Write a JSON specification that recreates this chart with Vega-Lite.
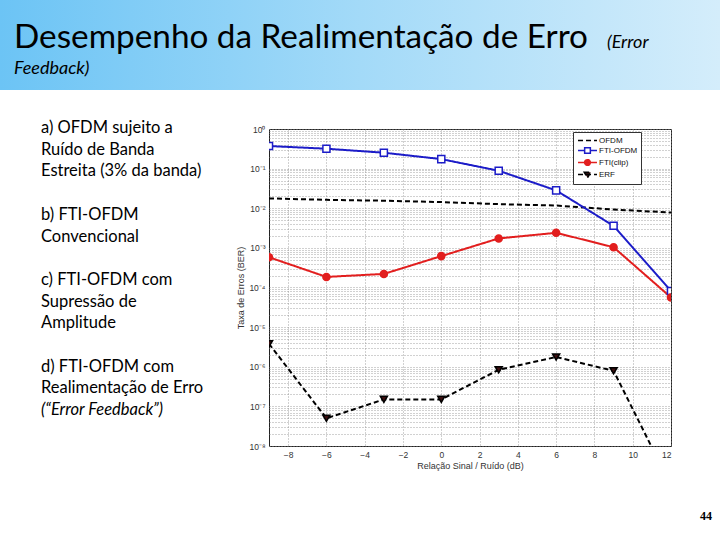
{
  "$schema": "https://vega.github.io/schema/vega-lite/v6.json",
  "padding": 0,
  "background": "white",
  "spacing": 30,
  "config": {"view": {"stroke": null}, "font": "Lato"},
  "title": {
    "text": "(Error", "anchor": "start", "frame": "group", "orient": "top",
    "dx": 607, "offset": -51.5,
    "font": "Lato", "fontSize": 18, "fontStyle": "italic", "fontWeight": "normal", "color": "#000000"
  },
  "datasets": {
    "ber": [
      {"series": "OFDM", "snr": -9, "ber": 0.0177},
      {"series": "OFDM", "snr": -6, "ber": 0.0163},
      {"series": "OFDM", "snr": -3, "ber": 0.0155},
      {"series": "OFDM", "snr": 0, "ber": 0.0143},
      {"series": "OFDM", "snr": 3, "ber": 0.0127},
      {"series": "OFDM", "snr": 6, "ber": 0.0117},
      {"series": "OFDM", "snr": 9, "ber": 0.0093},
      {"series": "OFDM", "snr": 12, "ber": 0.0078},
      {"series": "FTI-OFDM", "snr": -9, "ber": 0.372},
      {"series": "FTI-OFDM", "snr": -6, "ber": 0.318},
      {"series": "FTI-OFDM", "snr": -3, "ber": 0.252},
      {"series": "FTI-OFDM", "snr": 0, "ber": 0.174},
      {"series": "FTI-OFDM", "snr": 3, "ber": 0.0883},
      {"series": "FTI-OFDM", "snr": 6, "ber": 0.0282},
      {"series": "FTI-OFDM", "snr": 9, "ber": 0.0036},
      {"series": "FTI-OFDM", "snr": 12, "ber": 0.000082},
      {"series": "FTI(clip)", "snr": -9, "ber": 0.00058},
      {"series": "FTI(clip)", "snr": -6, "ber": 0.000185},
      {"series": "FTI(clip)", "snr": -3, "ber": 0.00022},
      {"series": "FTI(clip)", "snr": 0, "ber": 0.00062},
      {"series": "FTI(clip)", "snr": 3, "ber": 0.00173},
      {"series": "FTI(clip)", "snr": 6, "ber": 0.0024},
      {"series": "FTI(clip)", "snr": 9, "ber": 0.00104},
      {"series": "FTI(clip)", "snr": 12, "ber": 0.000056},
      {"series": "ERF", "snr": -9, "ber": 0.0000038},
      {"series": "ERF", "snr": -6, "ber": 0.00000005},
      {"series": "ERF", "snr": -3, "ber": 0.00000015},
      {"series": "ERF", "snr": 0, "ber": 0.00000015},
      {"series": "ERF", "snr": 3, "ber": 0.00000084},
      {"series": "ERF", "snr": 6, "ber": 0.00000176},
      {"series": "ERF", "snr": 9, "ber": 0.00000079},
      {"series": "ERF", "snr": 12, "ber": 0.000000001}
    ]
  },
  "vconcat": [
    {
      "width": 720, "height": 90,
      "data": {"values": [{}]},
      "mark": {"type": "rect", "color": {"gradient": "linear", "x1": 0, "y1": 0, "x2": 1, "y2": 0,
        "stops": [{"offset": 0, "color": "#6cc4f5"}, {"offset": 0.5, "color": "#a3daf8"}, {"offset": 1, "color": "#d4edfb"}]}},
      "encoding": {},
      "title": {
        "text": "Desempenho da Realimentação de Erro",
        "subtitle": "Feedback)",
        "anchor": "start", "frame": "group", "orient": "bottom",
        "dx": 14, "offset": -68.4,
        "font": "Lato", "fontSize": 33.3, "fontWeight": "normal", "color": "#000000",
        "subtitleFont": "Lato", "subtitleFontSize": 18, "subtitleFontStyle": "italic",
        "subtitleColor": "#000000", "subtitlePadding": 5
      }
    },
    {
      "bounds": "flush",
      "spacing": 39,
      "hconcat": [
        {
          "width": 230, "height": 317,
          "data": {"values": [{}]},
          "mark": {"type": "rect", "opacity": 0},
          "encoding": {},
          "title": {
            "text": ["a) OFDM sujeito a", "Ruído de Banda", "Estreita (3% da banda)", "\u200b", "b) FTI-OFDM", "Convencional", "\u200b", "c) FTI-OFDM com", "Supressão de", "Amplitude", "\u200b", "d) FTI-OFDM com", "Realimentação de Erro"],
            "subtitle": "(“Error Feedback”)",
            "anchor": "start", "frame": "group", "orient": "bottom",
            "dx": 41, "offset": -326,
            "font": "Lato", "fontSize": 16.5, "fontWeight": "normal", "color": "#000000", "lineHeight": 21.7,
            "subtitleFont": "Lato", "subtitleFontSize": 16.5, "subtitleFontStyle": "italic", "subtitleColor": "#000000",
            "subtitleLineHeight": 21.7, "subtitlePadding": 5
          }
        },
        {
          "width": 402, "height": 317,
          "data": {"name": "ber"},
          "view": {"stroke": "#222222", "strokeWidth": 1},
          "title": {
            "text": "44", "orient": "bottom", "anchor": "end", "frame": "group",
            "dx": 41, "offset": 40.5,
            "font": "Liberation Serif", "fontSize": 12, "fontWeight": "bold", "color": "#000000"
          },
          "layer": [
            {
              "mark": {"type": "line", "strokeWidth": 2, "clip": true},
              "encoding": {
                "x": {"field": "snr", "type": "quantitative",
                  "scale": {"domain": [-9, 12], "nice": false, "zero": false},
                  "axis": {"values": [-8, -6, -4, -2, 0, 2, 4, 6, 8, 10, 12], "title": "Relação Sinal / Ruído (dB)",
                    "grid": true, "gridDash": [1, 2], "gridColor": "#8c8c8c", "gridWidth": 0.8,
                    "domain": false, "ticks": false,
                    "labelFont": "Liberation Sans", "labelFontSize": 8.5, "labelColor": "#333333", "labelPadding": 4,
                    "titleFont": "Liberation Sans", "titleFontSize": 9, "titleFontWeight": "normal", "titleColor": "#333333", "titlePadding": 3}},
                "y": {"field": "ber", "type": "quantitative",
                  "scale": {"type": "log", "domain": [1e-8, 1], "nice": false},
                  "axis": {
                    "values": [1e-8, 2e-8, 3e-8, 4e-8, 5e-8, 6e-8, 7e-8, 8e-8, 9e-8,
                      1e-7, 2e-7, 3e-7, 4e-7, 5e-7, 6e-7, 7e-7, 8e-7, 9e-7,
                      1e-6, 2e-6, 3e-6, 4e-6, 5e-6, 6e-6, 7e-6, 8e-6, 9e-6,
                      1e-5, 2e-5, 3e-5, 4e-5, 5e-5, 6e-5, 7e-5, 8e-5, 9e-5,
                      1e-4, 2e-4, 3e-4, 4e-4, 5e-4, 6e-4, 7e-4, 8e-4, 9e-4,
                      1e-3, 2e-3, 3e-3, 4e-3, 5e-3, 6e-3, 7e-3, 8e-3, 9e-3,
                      1e-2, 2e-2, 3e-2, 4e-2, 5e-2, 6e-2, 7e-2, 8e-2, 9e-2,
                      1e-1, 2e-1, 3e-1, 4e-1, 5e-1, 6e-1, 7e-1, 8e-1, 9e-1, 1],
                    "labelExpr": "abs(log(datum.value)/LN10 - round(log(datum.value)/LN10)) < 0.001 ? '10' + (round(log(datum.value)/LN10) < 0 ? '⁻' : '') + ['⁰','¹','²','³','⁴','⁵','⁶','⁷','⁸','⁹'][abs(round(log(datum.value)/LN10))] : ''",
                    "title": "Taxa de Erros (BER)",
                    "grid": true, "gridDash": [1, 2], "gridColor": "#8c8c8c", "gridWidth": 0.8,
                    "domain": false, "ticks": false, "labelOverlap": false, "labelBound": false,
                    "labelFont": "Liberation Sans", "labelFontSize": 8.5, "labelColor": "#333333", "labelPadding": 4,
                    "titleFont": "Liberation Sans", "titleFontSize": 9, "titleFontWeight": "normal", "titleColor": "#333333", "titlePadding": 3}},
                "color": {"field": "series", "type": "nominal",
                  "scale": {"domain": ["OFDM", "FTI-OFDM", "FTI(clip)", "ERF"], "range": ["#000000", "#1c1cc8", "#e21e1e", "#000000"]},
                  "legend": {
                    "orient": "none", "legendX": 573, "legendY": 132, "title": null,
                    "fillColor": "white", "strokeColor": "#333333", "padding": 3,
                    "labelFont": "Liberation Sans", "labelFontSize": 8, "labelColor": "#111111",
                    "symbolSize": 90, "symbolStrokeWidth": 1.5, "symbolOffset": 6, "labelOffset": 6, "rowPadding": -3.5,
                    "encode": {"symbols": {"update": {
                      "shape": {"signal": "datum.value === 'OFDM' ? 'M-2,0H2' : datum.value === 'FTI-OFDM' ? 'M-2,0H-0.6M0.6,0H2M-0.6,-0.6H0.6V0.6H-0.6Z' : datum.value === 'FTI(clip)' ? 'M-2,0H2M0.6,0A0.6,0.6,0,1,1,-0.6,0A0.6,0.6,0,1,1,0.6,0Z' : 'M-2,0H2M-0.7,-0.5H0.7L0,0.7Z'"},
                      "fill": {"signal": "datum.value === 'FTI-OFDM' ? 'white' : datum.value === 'FTI(clip)' ? '#e21e1e' : datum.value === 'ERF' ? '#3d0f10' : 'transparent'"},
                      "strokeDash": {"signal": "datum.value === 'OFDM' || datum.value === 'ERF' ? [3, 2] : [1, 0]"}
                    }}}
                  }},
                "strokeDash": {"field": "series", "type": "nominal",
                  "scale": {"domain": ["OFDM", "FTI-OFDM", "FTI(clip)", "ERF"], "range": [[5, 3], [1, 0], [1, 0], [5, 3]]},
                  "legend": null}
              }
            },
            {
              "transform": [{"filter": "datum.series !== 'OFDM'"}],
              "mark": {"type": "point", "filled": false, "clip": true, "size": 50, "strokeWidth": 1.5, "opacity": 1},
              "encoding": {
                "x": {"field": "snr", "type": "quantitative"},
                "y": {"field": "ber", "type": "quantitative"},
                "color": {"field": "series", "type": "nominal"},
                "shape": {"field": "series", "type": "nominal",
                  "scale": {"domain": ["FTI-OFDM", "FTI(clip)", "ERF"], "range": ["square", "circle", "triangle-down"]},
                  "legend": null},
                "fill": {"field": "series", "type": "nominal",
                  "scale": {"domain": ["FTI-OFDM", "FTI(clip)", "ERF"], "range": ["#ffffff", "#e21e1e", "#3d0f10"]},
                  "legend": null}
              }
            }
          ]
        }
      ]
    }
  ]
}
